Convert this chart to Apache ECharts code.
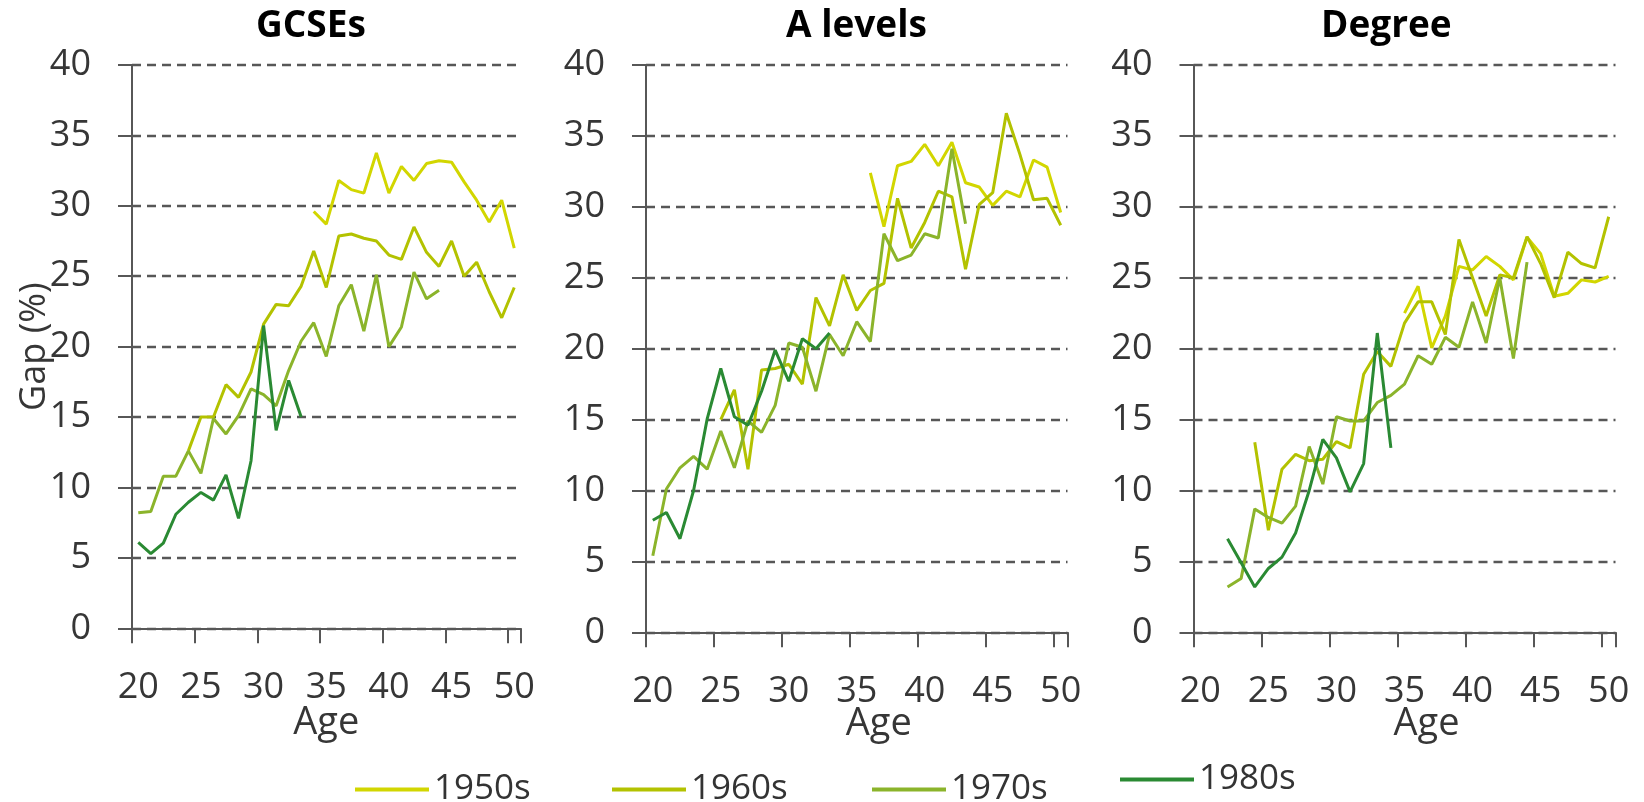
<!DOCTYPE html>
<html>
<head>
<meta charset="utf-8">
<script src="https://cdn.jsdelivr.net/npm/echarts@6/dist/echarts.min.js"></script>
<style>
html,body{margin:0;padding:0;background:#fff;}
#chart{width:1644px;height:802px;}
</style>
</head>
<body>
<div id="chart"></div>
<script>
// Categories (age) and tick labels
const ages = ['20','21','22','23','24','25','26','27','28','29','30','31','32','33','34','35','36','37','38','39','40','41','42','43','44','45','46','47','48','49','50'];
const cohorts = ['1950s','1960s','1970s','1980s'];
const panelTitles = ['GCSEs','A levels','Degree'];

// GCSEs (first age of each series, then values)
const gcse1950Start = 34;
const gcse1950 = [29.6, 28.7, 31.8, 31.15, 30.9, 33.75, 30.9, 32.8, 31.8, 33.0, 33.2, 33.1, 31.7, 30.4, 28.85, 30.4, 27.0];
const gcse1960Start = 24;
const gcse1960 = [12.6, 15.0, 15.0, 17.3, 16.4, 18.2, 21.6, 23.0, 22.9, 24.3, 26.8, 24.2, 27.85, 28.0, 27.7, 27.5, 26.5, 26.2, 28.5, 26.7, 25.7, 27.5, 25.0, 26.0, 23.9, 22.05, 24.2];
const gcse1970Start = 20;
const gcse1970 = [8.2, 8.3, 10.8, 10.8, 12.6, 11.0, 14.9, 13.8, 15.1, 17.0, 16.6, 15.8, 18.3, 20.4, 21.7, 19.3, 22.9, 24.4, 21.1, 25.1, 20.0, 21.4, 25.3, 23.4, 24.0];
const gcse1980Start = 20;
const gcse1980 = [6.1, 5.3, 6.05, 8.1, 8.95, 9.65, 9.1, 10.9, 7.8, 11.9, 21.5, 14.05, 17.6, 15.0];

// A levels
const alev1950Start = 36;
const alev1950 = [32.4, 28.6, 32.9, 33.2, 34.4, 32.9, 34.55, 31.7, 31.4, 30.1, 31.1, 30.7, 33.3, 32.8, 29.6];
const alev1960Start = 25;
const alev1960 = [15.0, 17.1, 11.5, 18.5, 18.6, 18.9, 17.5, 23.6, 21.6, 25.2, 22.7, 24.1, 24.6, 30.6, 27.1, 28.9, 31.1, 30.7, 25.6, 30.15, 31.0, 36.6, 33.7, 30.5, 30.6, 28.7];
const alev1970Start = 20;
const alev1970 = [5.4, 10.1, 11.6, 12.4, 11.5, 14.2, 11.6, 14.9, 14.1, 16.0, 20.4, 20.1, 17.0, 21.0, 19.5, 21.9, 20.5, 28.1, 26.2, 26.6, 28.1, 27.8, 34.1, 28.8];
const alev1980Start = 20;
const alev1980 = [7.9, 8.45, 6.6, 10.0, 15.05, 18.6, 15.2, 14.6, 17.0, 19.9, 17.7, 20.7, 20.0, 21.1];

// Degree
const deg1950Start = 35;
const deg1950 = [22.5, 24.4, 20.05, 22.3, 25.8, 25.55, 26.5, 25.8, 24.85, 27.85, 26.7, 23.7, 23.9, 24.85, 24.7, 25.1];
const deg1960Start = 24;
const deg1960 = [13.4, 7.2, 11.5, 12.55, 12.1, 12.2, 13.45, 13.0, 18.2, 19.8, 18.75, 21.8, 23.3, 23.3, 21.0, 27.7, 25.0, 22.3, 25.2, 25.0, 27.9, 26.0, 23.6, 26.8, 26.0, 25.7, 29.3];
const deg1970Start = 22;
const deg1970 = [3.2, 3.8, 8.7, 8.1, 7.7, 8.9, 13.1, 10.45, 15.2, 14.9, 14.9, 16.2, 16.7, 17.5, 19.5, 18.9, 20.8, 20.1, 23.3, 20.4, 25.0, 19.3, 26.1];
const deg1980Start = 22;
const deg1980 = [6.6, 4.9, 3.2, 4.5, 5.3, 7.0, 10.0, 13.6, 12.3, 9.9, 11.9, 21.1, 13.0];

// Y tick settings
const yMin = 0, yMax = 40, yStep = 5;

const colors = {'1950s':'#d2d600','1960s':'#b3c200','1970s':'#8bb42b','1980s':'#2a8a33'};

function onAges(startAge, vals){
  const out = ages.map(() => null);
  const i0 = ages.indexOf(String(startAge));
  vals.forEach((v,k) => { out[i0+k] = v; });
  return out;
}

const panels = [
  [[gcse1950Start,gcse1950],[gcse1960Start,gcse1960],[gcse1970Start,gcse1970],[gcse1980Start,gcse1980]],
  [[alev1950Start,alev1950],[alev1960Start,alev1960],[alev1970Start,alev1970],[alev1980Start,alev1980]],
  [[deg1950Start,deg1950],[deg1960Start,deg1960],[deg1970Start,deg1970],[deg1980Start,deg1980]]
];

const FONT = "'Open Sans', 'Noto Sans', sans-serif";
const grids = [
  {left:132, top:65, width:388.5, height:563.3},
  {left:646, top:65, width:421.5, height:567.3},
  {left:1193.5, top:65, width:422, height:567.3}
];
const axisColor = '#575757';
const labelColor = '#363636';

const xAxes = grids.map((g,i) => ({
  type:'category', gridIndex:i, data:ages, boundaryGap:true,
  name:'Age', nameLocation:'middle', nameGap: i===0 ? 76 : 73,
  nameMoveOverlap:false,
  nameTextStyle:{fontFamily:FONT, fontSize:38, color:labelColor, padding: i===0 ? [0,0,0,0] : [0,0,0,44]},
  axisLine:{show:true, lineStyle:{color:axisColor, width:2}},
  axisTick:{show:true, interval:4, length:15, inside:false, lineStyle:{color:axisColor, width:2}},
  axisLabel:{interval:4, margin:41, fontFamily:FONT, fontSize:36, color:labelColor, hideOverlap:false},
  splitLine:{show:false}
}));

const yAxes = grids.map((g,i) => ({
  type:'value', gridIndex:i, min:yMin, max:yMax, interval:yStep,
  name: i===0 ? 'Gap (%)' : '', nameLocation:'middle', nameGap:79, nameRotate:90,
  nameMoveOverlap:false,
  nameTextStyle:{fontFamily:FONT, fontSize:36, color:labelColor},
  axisLine:{show:true, lineStyle:{color:axisColor, width:2}},
  axisTick:{show:true, length:14, inside:false, lineStyle:{color:axisColor, width:2}},
  axisLabel:{margin:41, fontFamily:FONT, fontSize:36, color:labelColor, hideOverlap:false},
  splitLine:{show:true, lineStyle:{color:axisColor, width:2.4, type:[9,6]}}
}));

const series = [];
panels.forEach((p,gi) => {
  p.forEach(([start, vals], ci) => {
    const name = cohorts[ci];
    series.push({
      type:'line', name:name, xAxisIndex:gi, yAxisIndex:gi,
      data:onAges(start, vals), connectNulls:false,
      symbol:'none', showSymbol:false, smooth:false, animation:false,
      color:colors[name],
      lineStyle:{color:colors[name], width:3},
      z: 2+ci
    });
  });
});

const titleLeft = [256, 786, 1321];
const titles = panelTitles.map((t,i) => ({
  text:t, left:titleLeft[i], top:8, padding:0,
  textStyle:{fontFamily:FONT, fontSize:37, fontWeight:'bold', color:'#000'}
}));

const legendPos = [[355,772],[612,772],[872,772],[1120,762]];
const legends = cohorts.map((c,i) => ({
  data:[c], left:legendPos[i][0], top:legendPos[i][1], padding:0,
  icon:'rect', itemWidth:74, itemHeight:4, itemGap:0,
  textStyle:{fontFamily:FONT, fontSize:35, color:'#333'},
  selectedMode:false
}));

const chart = echarts.init(document.getElementById('chart'), null, {renderer:'canvas'});
chart.setOption({
  backgroundColor:'#ffffff',
  animation:false,
  title:titles,
  legend:legends,
  grid:grids.map(g => Object.assign({outerBoundsMode:'none', containLabel:false}, g)),
  xAxis:xAxes,
  yAxis:yAxes,
  series:series
});
</script>
</body>
</html>
